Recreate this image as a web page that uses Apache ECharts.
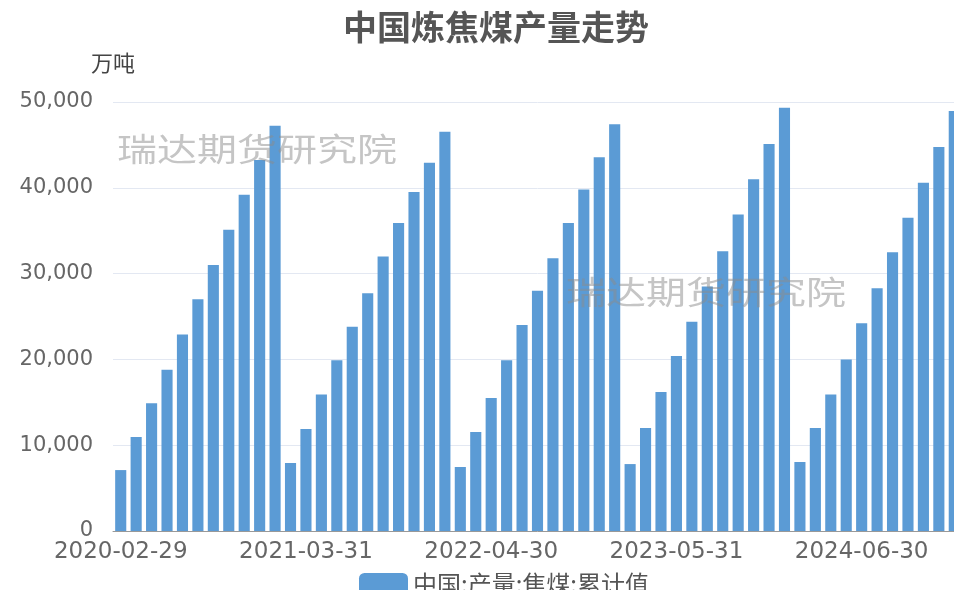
<!DOCTYPE html>
<html>
<head>
<meta charset="utf-8">
<title>中国炼焦煤产量走势</title>
<script src="https://cdn.jsdelivr.net/npm/echarts@6/dist/echarts.min.js"></script>
<style>
  html, body { margin: 0; padding: 0; background: #fff; overflow: hidden; }
  /* the source image cuts the chart off on the right, so the canvas runs past the window */
  #chart { width: 962px; height: 590px; }
</style>
</head>
<body>
<div id="chart"></div>
<script>
// monthly cumulative output, Jan-Feb merged, 万吨
const months = [
  '2020-02-29', '2020-03-31', '2020-04-30', '2020-05-31', '2020-06-30', '2020-07-31', '2020-08-31', '2020-09-30', '2020-10-31', '2020-11-30', '2020-12-31',
  '2021-02-28', '2021-03-31', '2021-04-30', '2021-05-31', '2021-06-30', '2021-07-31', '2021-08-31', '2021-09-30', '2021-10-31', '2021-11-30', '2021-12-31',
  '2022-02-28', '2022-03-31', '2022-04-30', '2022-05-31', '2022-06-30', '2022-07-31', '2022-08-31', '2022-09-30', '2022-10-31', '2022-11-30', '2022-12-31',
  '2023-02-28', '2023-03-31', '2023-04-30', '2023-05-31', '2023-06-30', '2023-07-31', '2023-08-31', '2023-09-30', '2023-10-31', '2023-11-30', '2023-12-31',
  '2024-02-29', '2024-03-31', '2024-04-30', '2024-05-31', '2024-06-30', '2024-07-31', '2024-08-31', '2024-09-30', '2024-10-31', '2024-11-30', '2024-12-31'
];
const output = [
  7100, 10960, 14900, 18800, 22900, 27000, 31000, 35100, 39200, 43240, 47240,
  7930, 11890, 15900, 19900, 23800, 27700, 32000, 35900, 39500, 42930, 46540,
  7460, 11540, 15500, 19900, 24000, 28000, 31800, 35900, 39800, 43550, 47400,
  7800, 12000, 16200, 20400, 24400, 28500, 32600, 36900, 41000, 45100, 49340,
  8040, 12000, 15900, 20000, 24200, 28300, 32500, 36500, 40600, 44750, 48950
];
const seriesName = '中国:产量:焦煤:累计值';
const yTicks = { min: 0, max: 50000, interval: 10000 };

const chart = echarts.init(document.getElementById('chart'));
const wmStyle = {
  fill: 'rgba(140,140,140,0.5)',
  fontSize: 32,
  fontFamily: 'Noto Sans CJK SC'
};
chart.setOption({
  animation: false,
  title: {
    text: '中国炼焦煤产量走势',
    left: 338,
    top: 5,
    textStyle: {
      fontSize: 34,
      fontWeight: 'bold',
      color: '#555',
      fontFamily: 'Noto Sans CJK SC'
    }
  },
  legend: {
    data: [seriesName],
    left: 354,
    top: 567,
    itemWidth: 49,
    itemHeight: 22,
    itemGap: 10,
    textStyle: {
      fontSize: 24,
      color: '#555',
      fontFamily: 'Noto Sans CJK SC'
    }
  },
  grid: {
    left: 113,
    right: 0,
    top: 102,
    bottom: 59
  },
  xAxis: {
    type: 'category',
    data: months,
    axisLine: { lineStyle: { color: '#999' } },
    axisTick: {
      alignWithLabel: true,
      interval: 11,
      lineStyle: { color: '#888' }
    },
    axisLabel: {
      interval: 11,
      margin: 10,
      fontSize: 23,
      color: '#666',
      fontFamily: 'DejaVu Sans'
    }
  },
  yAxis: {
    type: 'value',
    min: yTicks.min,
    max: yTicks.max,
    interval: yTicks.interval,
    name: '万吨',
    nameGap: 28,
    nameTextStyle: {
      fontSize: 22,
      color: '#444',
      fontFamily: 'Noto Sans CJK SC',
      align: 'center'
    },
    axisLine: { show: false },
    axisTick: { show: false },
    axisLabel: {
      margin: 20,
      fontSize: 21,
      color: '#666',
      fontFamily: 'DejaVu Sans',
      formatter: v => v.toLocaleString('en-US')
    },
    splitLine: { lineStyle: { color: '#e3e8f2' } }
  },
  series: [
    {
      name: seriesName,
      type: 'bar',
      data: output,
      barCategoryGap: '28%',
      itemStyle: { color: '#5b9bd5' }
    }
  ],
  graphic: [
    {
      type: 'text',
      left: 117,
      top: 133,
      scaleX: 1.25,
      z: 100,
      style: Object.assign({ text: '瑞达期货研究院' }, wmStyle)
    },
    {
      type: 'text',
      left: 566,
      top: 276,
      scaleX: 1.25,
      z: 100,
      style: Object.assign({ text: '瑞达期货研究院' }, wmStyle)
    }
  ]
});
</script>
</body>
</html>
